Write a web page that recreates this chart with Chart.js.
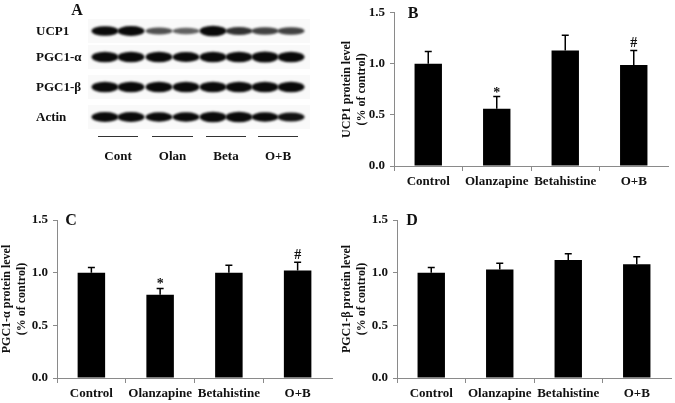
<!DOCTYPE html>
<html>
<head>
<meta charset="utf-8">
<script src="https://cdn.jsdelivr.net/npm/chart.js@4.4.1/dist/chart.umd.min.js"></script>
<style>
  body { margin: 0; background: #fff; }
  #wrap { position: relative; width: 675px; height: 403px; overflow: hidden; }
  canvas { position: absolute; }
</style>
</head>
<body>
<div id="wrap">
  <canvas id="blot" width="340" height="200" style="left:0;top:0"></canvas>
  <canvas id="chartB" width="335" height="200" style="left:340px;top:0"></canvas>
  <canvas id="chartC" width="340" height="203" style="left:0;top:200px"></canvas>
  <canvas id="chartD" width="335" height="203" style="left:340px;top:200px"></canvas>
</div>
<script>
const categories = ["Control", "Olanzapine", "Betahistine", "O+B"];

// panel B: UCP1
const ucp1Mean = [1.00, 0.56, 1.13, 0.99];
const ucp1Err = [0.12, 0.12, 0.15, 0.14];
const ucp1Marks = ["", "*", "", "#"];

// panel C: PGC1-alpha
const pgc1aMean = [1.00, 0.79, 1.00, 1.02];
const pgc1aErr = [0.05, 0.06, 0.07, 0.08];
const pgc1aMarks = ["", "*", "", "#"];

// panel D: PGC1-beta
const pgc1bMean = [1.00, 1.03, 1.12, 1.08];
const pgc1bErr = [0.05, 0.06, 0.06, 0.07];
const pgc1bMarks = ["", "", "", ""];

// panel A: western blot, band darkness per lane (2 lanes per group)
const blotRows = ["UCP1", "PGC1-α", "PGC1-β", "Actin"];
const blotGroups = ["Cont", "Olan", "Beta", "O+B"];
const blotBands = [
  [0.8, 0.84, 0.45, 0.38, 0.9, 0.58, 0.52, 0.52],
  [0.95, 0.95, 0.92, 0.88, 0.93, 0.96, 1.0, 0.96],
  [0.94, 0.93, 0.94, 0.96, 0.96, 0.93, 0.96, 0.94],
  [0.84, 0.84, 0.78, 0.76, 0.9, 0.92, 0.78, 0.72]
];

const SERIF = '"Liberation Serif", "Times New Roman", serif';
const AXIS_GREY = "#8a8a8a";
const INK = "#111";

function drawBlot() {
  const ctx = document.getElementById("blot").getContext("2d");
  const laneX = [105, 131, 159, 186, 213, 239, 265, 291];
  const rowY = [31, 57, 87, 117];

  // faint membrane strips
  ctx.fillStyle = "#f9f9f9";
  rowY.forEach(y => ctx.fillRect(88, y - 12, 222, 24));

  ctx.save();
  ctx.filter = "blur(1.3px)";
  blotBands.forEach((row, r) => {
    row.forEach((v, i) => {
      const h = 4 + 7 * v;
      ctx.globalAlpha = Math.min(1, 0.25 + v);
      ctx.fillStyle = "#0a0a0a";
      ctx.beginPath();
      ctx.ellipse(laneX[i], rowY[r], 13.5, h / 2, 0, 0, Math.PI * 2);
      ctx.fill();
    });
  });
  ctx.restore();

  ctx.fillStyle = INK;
  ctx.font = "bold 13px " + SERIF;
  ctx.textBaseline = "middle";
  ctx.textAlign = "left";
  blotRows.forEach((name, r) => ctx.fillText(name, 36, rowY[r] + 1));

  ctx.strokeStyle = "#333";
  ctx.lineWidth = 1;
  ctx.textAlign = "center";
  blotGroups.forEach((g, k) => {
    const x0 = laneX[2 * k] - 7, x1 = laneX[2 * k + 1] + 7;
    ctx.beginPath();
    ctx.moveTo(x0, 136.5);
    ctx.lineTo(x1, 136.5);
    ctx.stroke();
    ctx.fillText(g, (x0 + x1) / 2, 157);
  });

  ctx.font = "bold 16px " + SERIF;
  ctx.fillText("A", 77, 11);
}

const errorBars = {
  id: "errorBars",
  afterDatasetsDraw(chart) {
    const ctx = chart.ctx;
    const ds = chart.data.datasets[0];
    const y = chart.scales.y;
    ctx.save();
    ctx.strokeStyle = "#000";
    ctx.lineWidth = 1.5;
    ctx.fillStyle = INK;
    ctx.font = "bold 14px " + SERIF;
    ctx.textAlign = "center";
    ctx.textBaseline = "alphabetic";
    chart.getDatasetMeta(0).data.forEach((bar, i) => {
      const top = y.getPixelForValue(ds.data[i] + ds.errors[i]);
      ctx.beginPath();
      ctx.moveTo(bar.x, bar.y);
      ctx.lineTo(bar.x, top);
      ctx.moveTo(bar.x - 3.5, top);
      ctx.lineTo(bar.x + 3.5, top);
      ctx.stroke();
      const m = ds.marks[i];
      if (m) ctx.fillText(m, bar.x, top - (m === "#" ? 3.5 : 0));
    });
    ctx.restore();
  }
};

const panelLetter = {
  id: "panelLetter",
  afterDraw(chart, args, opts) {
    const ctx = chart.ctx;
    const a = chart.chartArea;
    ctx.save();
    ctx.fillStyle = INK;
    ctx.font = "bold 16px " + SERIF;
    ctx.textAlign = "center";
    ctx.textBaseline = "middle";
    ctx.fillText(opts.text, a.left + opts.dx, a.top + 1);
    ctx.restore();
  }
};

function makeChart(id, o) {
  return new Chart(document.getElementById(id), {
    type: "bar",
    data: {
      labels: categories,
      datasets: [{
        data: o.mean,
        errors: o.err,
        marks: o.marks,
        backgroundColor: "#000",
        borderWidth: 0,
        barPercentage: 0.4,
        categoryPercentage: 1.0
      }]
    },
    options: {
      responsive: false,
      animation: false,
      devicePixelRatio: 1,
      layout: { padding: { left: 0, right: o.padRight, top: o.padTop, bottom: 0 } },
      plugins: {
        legend: { display: false },
        tooltip: { enabled: false },
        panelLetter: { text: o.letter, dx: o.letterDx }
      },
      scales: {
        x: {
          grid: {
            drawOnChartArea: false,
            offset: true,
            tickLength: 5,
            tickColor: c => c.index === undefined ? "rgba(0,0,0,0)" : AXIS_GREY
          },
          border: { color: AXIS_GREY },
          ticks: {
            color: INK,
            padding: 3,
            maxRotation: 0,
            autoSkip: false,
            font: { family: SERIF, size: 13, weight: "bold" }
          },
          afterFit: s => { s.height = o.xHeight; }
        },
        y: {
          min: 0,
          max: 1.5,
          grid: { drawOnChartArea: false, tickLength: 4, color: AXIS_GREY },
          border: { color: AXIS_GREY },
          ticks: {
            stepSize: 0.5,
            color: INK,
            padding: 5,
            callback: v => v.toFixed(1),
            font: { family: SERIF, size: 13, weight: "bold" }
          },
          title: {
            display: true,
            text: o.title,
            color: INK,
            padding: { top: 0, bottom: 0 },
            font: { family: SERIF, size: 12, weight: "bold", lineHeight: 1.2 }
          },
          afterFit: s => { s.width = o.yWidth; }
        }
      }
    },
    plugins: [errorBars, panelLetter]
  });
}

drawBlot();

makeChart("chartB", {
  mean: ucp1Mean, err: ucp1Err, marks: ucp1Marks,
  title: ["UCP1 protein level", "(% of control)"],
  letter: "B", letterDx: 19,
  yWidth: 54, xHeight: 34, padTop: 12, padRight: 7
});

makeChart("chartC", {
  mean: pgc1aMean, err: pgc1aErr, marks: pgc1aMarks,
  title: ["PGC1-α protein level", "(% of control)"],
  letter: "C", letterDx: 14,
  yWidth: 57, xHeight: 25, padTop: 20, padRight: 8
});

makeChart("chartD", {
  mean: pgc1bMean, err: pgc1bErr, marks: pgc1bMarks,
  title: ["PGC1-β protein level", "(% of control)"],
  letter: "D", letterDx: 15,
  yWidth: 57, xHeight: 25, padTop: 20, padRight: 4
});
</script>
</body>
</html>
